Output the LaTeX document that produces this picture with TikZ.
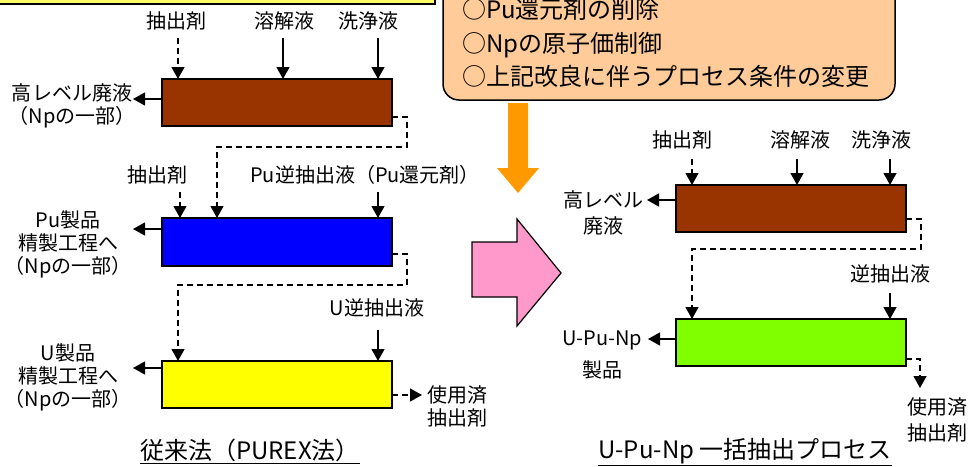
\documentclass[tikz,border=0pt]{standalone}
\usepackage{fontspec}
\setmainfont{Noto Sans CJK JP}
\usetikzlibrary{arrows.meta}
\definecolor{cbrown}{HTML}{993300}
\definecolor{cblue}{HTML}{0000FF}
\definecolor{cyellow}{HTML}{FFFF00}
\definecolor{cgreen}{HTML}{80FF00}
\definecolor{corange}{HTML}{FFCC99}
\definecolor{carrow}{HTML}{FF9900}
\definecolor{cpink}{HTML}{FF99CC}
\definecolor{cpale}{HTML}{FFFF66}
\begin{document}
\begin{tikzpicture}[x=1pt,y=-1pt,
  proc/.style={draw=black, line width=1.5pt, minimum width=230pt, minimum height=47pt, inner sep=0pt, outer sep=0pt},
  lbl/.style={font=\fontsize{20}{23}\selectfont, inner sep=0pt, align=center},
  feed/.style={line width=1.2pt, -{Triangle[length=12pt,width=13pt]}},
  dfeed/.style={feed, dash pattern=on 6pt off 4pt},
  captxt/.style={font=\fontsize{24}{28}\selectfont, inner sep=0pt}]
\useasboundingbox (0,0) rectangle (973,466);

% top-left cropped box
\fill[cpale, draw=black, line width=2pt] (-10,-30) rectangle (435,3.5);

% orange box
\node[draw=black, line width=1.5pt, fill=corange, rounded corners=16pt, minimum width=452pt, minimum height=130pt, inner sep=0pt] (obox) at (669,35) {};
\node[font=\fontsize{24}{33.5}\selectfont, align=left, anchor=west, inner sep=0pt] (otext) at (462,43) {○Pu還元剤の削除\\○Npの原子価制御\\○上記改良に伴うプロセス条件の変更};

% orange down arrow
\fill[carrow] (508,103) -- (528,103) -- (528,168) -- (539,168) -- (518,193) -- (497,168) -- (508,168) -- cycle;

% pink arrow
\draw[fill=cpink, line width=1.2pt] (472,242) -- (517,242) -- (517,219) -- (561,273) -- (517,326) -- (517,297) -- (472,297) -- cycle;

% ===== left: conventional PUREX =====
\node[proc, fill=cbrown] (b1) at (277,102.5) {};
\node[proc, fill=cblue, minimum height=48pt] (b2) at (277,242) {};
\node[proc, fill=cyellow] (b3) at (277,384.5) {};

\node[lbl] (t11) at (176,21) {抽出剤};
\node[lbl] (t12) at (284,21) {溶解液};
\node[lbl] (t13) at (368,21) {洗浄液};
\coordinate (a11) at (178,38);
\coordinate (a12) at (283,38);
\coordinate (a13) at (378,38);
\draw[dfeed] (a11) -- (a11 |- b1.north);
\draw[feed] (a12) -- (a12 |- b1.north);
\draw[feed] (a13) -- (a13 |- b1.north);

\coordinate (o1) at (133,99);
\draw[feed] (b1.west |- o1) -- (o1);
\node[lbl] (l1) at (72,106) {高レベル廃液\\（Npの一部）};

\coordinate (r1) at (407,147);
\coordinate (s1) at (217,147);
\draw[dfeed] (b1.east |- 0,117) -| (r1) -| (b2.north -| s1);

\node[lbl] (t21) at (157,175) {抽出剤};
\node[lbl, anchor=west] (t22) at (250,175) {Pu逆抽出液（Pu還元剤）};
\coordinate (a21) at (180,192);
\coordinate (a22) at (378,192);
\draw[dfeed] (a21) -- (a21 |- b2.north);
\draw[feed] (a22) -- (a22 |- b2.north);

\coordinate (o2) at (133,229);
\draw[feed] (b2.west |- o2) -- (o2);
\node[lbl] (l2) at (68,244) {Pu製品\\精製工程へ\\（Npの一部）};

\coordinate (r2) at (407,285);
\coordinate (s2) at (178,285);
\draw[dfeed] (b2.east |- 0,254) -| (r2) -| (b3.north -| s2);

\node[lbl] (t31) at (377,308) {U逆抽出液};
\coordinate (a31) at (378,330);
\draw[feed] (a31) -- (a31 |- b3.north);

\coordinate (o3) at (133,368);
\draw[feed] (b3.west |- o3) -- (o3);
\node[lbl] (l3) at (68,377) {U製品\\精製工程へ\\（Npの一部）};

\coordinate (u1) at (422,395);
\draw[dfeed] (b3.east |- u1) -- (u1);
\node[lbl, align=left, anchor=west] (w1) at (427,406) {使用済\\抽出剤};

\node[captxt] (cap1) at (250,451) {\underline{従来法（PUREX法）}};

% ===== right: U-Pu-Np co-extraction =====
\node[proc, fill=cbrown] (b4) at (791,208.5) {};
\node[proc, fill=cgreen] (b5) at (791,342.5) {};

\node[lbl] (t41) at (682,140) {抽出剤};
\node[lbl] (t42) at (800,140) {溶解液};
\node[lbl] (t43) at (881,140) {洗浄液};
\coordinate (a41) at (692,159);
\coordinate (a42) at (797,159);
\coordinate (a43) at (890,159);
\draw[dfeed] (a41) -- (a41 |- b4.north);
\draw[feed] (a42) -- (a42 |- b4.north);
\draw[feed] (a43) -- (a43 |- b4.north);

\coordinate (o4) at (647,200);
\draw[feed] (b4.west |- o4) -- (o4);
\node[lbl, font=\fontsize{20}{26}\selectfont] (l4) at (603,213) {高レベル\\廃液};

\coordinate (r4) at (921,249);
\coordinate (s4) at (692,249);
\draw[dfeed] (b4.east |- 0,219) -| (r4) -| (b5.north -| s4);

\node[lbl] (t51) at (890,274) {逆抽出液};
\coordinate (a51) at (890,293);
\draw[feed] (a51) -- (a51 |- b5.north);

\coordinate (o5) at (648,339);
\draw[feed] (b5.west |- o5) -- (o5);
\node[lbl, font=\fontsize{20}{32}\selectfont] (l5) at (602,355) {U-Pu-Np\\製品};

\coordinate (u2) at (920,388);
\draw[dfeed] (b5.east |- 0,359) -| (u2);
\node[lbl, font=\fontsize{20}{26}\selectfont] (w2) at (937,420) {使用済\\抽出剤};

\node[captxt] (cap2) at (745,452) {\underline{U-Pu-Np 一括抽出プロセス}};
\end{tikzpicture}
\end{document}
